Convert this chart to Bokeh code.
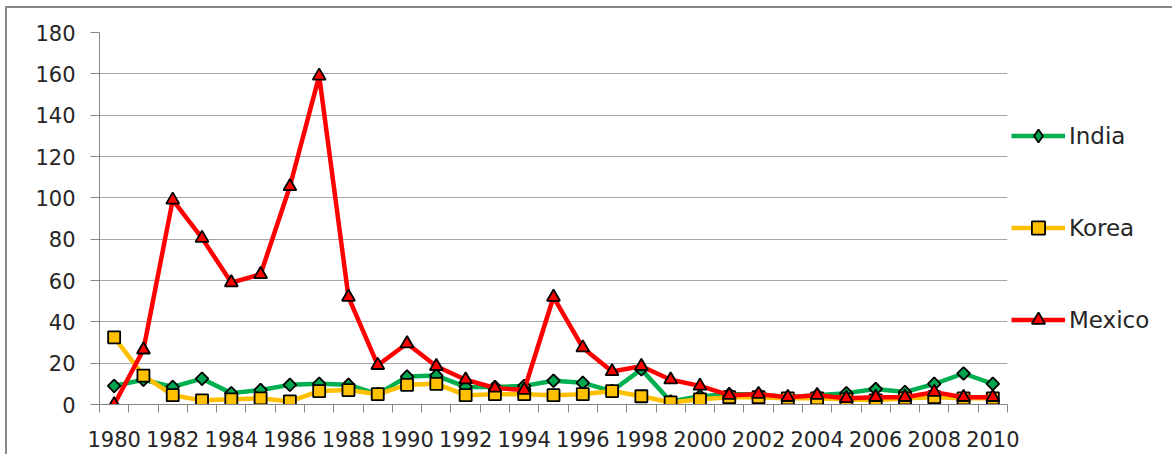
import numpy as np
from bokeh.plotting import figure
from bokeh.models import Range1d, FixedTicker, Legend, LegendItem
from bokeh.embed import file_html
from bokeh.resources import INLINE

years = list(range(1980, 2011))
india = [9, 12, 8.5, 12.5, 5.5, 7, 9.5, 10, 9.5, 5, 13.5, 14, 8.5, 8.5, 9, 11.5,
         10.5, 6.5, 17, 1.5, 4, 5, 5, 3.5, 4.5, 5.5, 7.5, 6, 10, 15, 10]
korea = [32.5, 14, 4.5, 2, 2.5, 3, 1.5, 6.5, 7, 5, 9.5, 10, 4.5, 5, 5, 4.5,
         5, 6.5, 4, 1, 2.5, 3.5, 3.5, 3, 3, 2.5, 2, 3, 3.5, 3, 3]
mexico = [0, 26.5, 99, 80.5, 59, 63, 105.5, 159, 52, 19, 29.5, 18.5, 12, 8, 7, 52,
          27.5, 16, 18.5, 12, 9, 4.5, 5, 3.5, 4.5, 3, 3.5, 3.5, 6, 3.5, 3.5]
y_ticks = list(range(0, 181, 20))
x_label_years = list(range(1980, 2011, 2))

FONT = "DejaVu Sans"
TXT = "#262626"
AXC = "#868686"

p = figure(frame_width=908, frame_height=372, output_backend="svg", toolbar_location=None,
           x_range=Range1d(1979.5, 2010.5), y_range=Range1d(0, 180),
           min_border_left=92, min_border_top=24, min_border_bottom=50, min_border_right=0)
p.outline_line_color = None
p.background_fill_color = "white"
p.border_fill_color = "white"
p.styles = {"border-top": "2px solid #898989", "border-left": "2px solid #898989",
            "margin-left": "5px", "margin-top": "6px"}

p.xgrid.grid_line_color = None
p.ygrid.grid_line_color = "#a6a6a6"
p.ygrid.grid_line_width = 1

p.yaxis.ticker = FixedTicker(ticks=y_ticks)
p.yaxis.axis_line_color = AXC
p.yaxis.major_tick_line_color = AXC
p.yaxis.major_tick_out = 9
p.yaxis.major_tick_in = 0
p.yaxis.minor_tick_line_color = None
p.yaxis.major_label_standoff = 15
p.yaxis.major_label_text_font = FONT
p.yaxis.major_label_text_font_size = "21px"
p.yaxis.major_label_text_color = TXT

p.xaxis.ticker = FixedTicker(ticks=x_label_years, minor_ticks=[y - 0.5 for y in years] + [2010.5])
p.xaxis.axis_line_color = AXC
p.xaxis.major_tick_line_color = None
p.xaxis.minor_tick_line_color = AXC
p.xaxis.minor_tick_out = 8
p.xaxis.minor_tick_in = 0
p.xaxis.major_label_standoff = 18
p.xaxis.major_label_text_font = FONT
p.xaxis.major_label_text_font_size = "21px"
p.xaxis.major_label_text_color = TXT

l1 = p.line(years, india, line_color="#00B050", line_width=4.5)
# diamond used for the legend entry (hidden beneath the rotated squares)
s1_leg = p.scatter(years, india, marker="diamond", size=12,
                   fill_color="#00A550", line_color="black", line_width=1.8)
s1 = p.scatter(years, india, marker="square", angle=np.pi / 4, size=9,
               fill_color="#00A550", line_color="black", line_width=1.8)
l2 = p.line(years, korea, line_color="#FFC000", line_width=4.5)
s2 = p.scatter(years, korea, marker="square", size=12,
               fill_color="#FFC000", line_color="black", line_width=1.8)
l3 = p.line(years, mexico, line_color="#FF0000", line_width=4.5)
s3 = p.scatter(years, mexico, marker="triangle", size=13,
               fill_color="#FF0000", line_color="black", line_width=1.8)

legend = Legend(items=[LegendItem(label="India", renderers=[l1, s1_leg]),
                       LegendItem(label="Korea", renderers=[l2, s2]),
                       LegendItem(label="Mexico", renderers=[l3, s3])],
                location=(4, 68))
legend.label_text_font = FONT
legend.label_text_font_size = "23px"
legend.label_text_color = TXT
legend.glyph_width = 54
legend.glyph_height = 33
legend.label_height = 20
legend.spacing = 59
legend.padding = 0
legend.margin = 6
legend.label_standoff = 4
legend.border_line_color = None
legend.background_fill_alpha = 0
p.add_layout(legend, "right")

open("out.html", "w").write(file_html(p, INLINE))
